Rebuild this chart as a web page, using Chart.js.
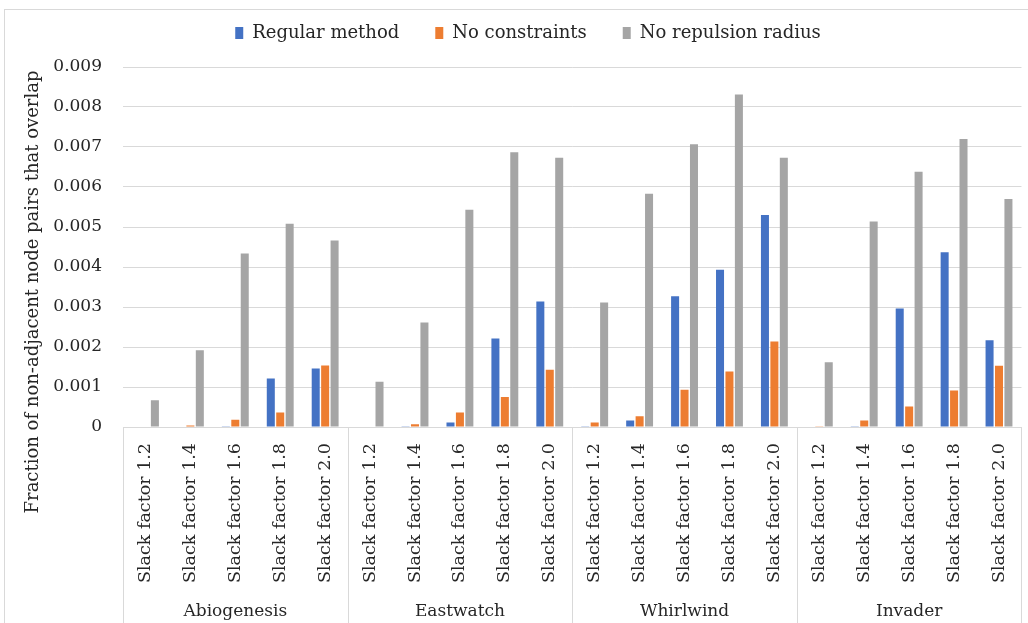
<!DOCTYPE html>
<html>
<head>
<meta charset="utf-8">
<script src="https://cdn.jsdelivr.net/npm/chart.js@4"></script>
<style>
  body { margin: 0; background: #fff; }
  #frame { position: absolute; left: 4px; top: 9px; width: 1100px; height: 700px; border: 1px solid #d9d9d9; }
  #wrap { position: absolute; left: 0; top: 0; width: 1028px; height: 623px; }
</style>
</head>
<body>
<div id="frame"></div>
<div id="wrap"><canvas id="chart"></canvas></div>
<script>
// data
var groups = ['Abiogenesis', 'Eastwatch', 'Whirlwind', 'Invader'];
var factors = ['Slack factor 1.2', 'Slack factor 1.4', 'Slack factor 1.6', 'Slack factor 1.8', 'Slack factor 2.0'];
var regular = [0, 0, 0.00002, 0.00121, 0.00146,
               0, 0.00002, 0.00011, 0.00221, 0.00314,
               0.00002, 0.00016, 0.00327, 0.00393, 0.0053,
               0, 0.00002, 0.00296, 0.00437, 0.00217];
var noConstraints = [0, 0.00004, 0.00018, 0.00036, 0.00154,
                     0, 0.00007, 0.00036, 0.00075, 0.00143,
                     0.00011, 0.00027, 0.00093, 0.00139, 0.00214,
                     0.00002, 0.00016, 0.00051, 0.00091, 0.00153];
var noRepulsion = [0.00067, 0.00192, 0.00434, 0.00508, 0.00466,
                   0.00113, 0.00261, 0.00543, 0.00687, 0.00673,
                   0.00311, 0.00583, 0.00707, 0.00831, 0.00673,
                   0.00162, 0.00514, 0.00638, 0.0072, 0.0057];
var yTitle = 'Fraction of non-adjacent node pairs that overlap';

var labels = [];
groups.forEach(function (g) {
    factors.forEach(function (f) { labels.push(f); });
});

var FONT = 'DejaVu Serif';
var TEXT = '#262626';
var GRID = '#d9d9d9';

// fixed legend height so the plot starts where the reference does,
// and legend nudged right a little like the original
var legendBox = {
    id: 'legendBox',
    beforeLayout: function (chart) {
        var lg = chart.legend;
        if (lg && !lg._fixed) {
            var fit = lg.fit;
            lg.fit = function () { fit.call(this); this.height = 79; };
            lg._fixed = true;
        }
    },
    afterLayout: function (chart) {
        chart.legend.left += 14;
        chart.legend.right += 14;
    }
};

// group separators and y title
var extras = {
    id: 'extras',
    afterDraw: function (chart) {
        var ctx = chart.ctx;
        var x = chart.scales.x;
        var top = chart.chartArea.bottom;
        var bottom = chart.height;
        ctx.save();
        ctx.strokeStyle = GRID;
        ctx.lineWidth = 1;
        for (var g = 0; g <= groups.length; g++) {
            var px;
            if (g === 0) px = x.left;
            else if (g === groups.length) px = x.right;
            else px = (x.getPixelForValue(g * 5 - 1) + x.getPixelForValue(g * 5)) / 2;
            px = Math.round(px) + 0.5;
            ctx.beginPath();
            ctx.moveTo(px, top);
            ctx.lineTo(px, bottom);
            ctx.stroke();
        }
        ctx.translate(33, 292);
        ctx.rotate(-Math.PI / 2);
        ctx.fillStyle = TEXT;
        ctx.font = '18px "' + FONT + '"';
        ctx.textAlign = 'center';
        ctx.textBaseline = 'middle';
        ctx.fillText(yTitle, 0, 0);
        ctx.restore();
    }
};

var ctx = document.getElementById('chart').getContext('2d');
var chart = new Chart(ctx, {
    type: 'bar',
    data: {
        labels: labels,
        datasets: [
            { label: 'Regular method', data: regular, backgroundColor: '#4472C4' },
            { label: 'No constraints', data: noConstraints, backgroundColor: '#ED7D31' },
            { label: 'No repulsion radius', data: noRepulsion, backgroundColor: '#A5A5A5' }
        ]
    },
    options: {
        responsive: true,
        maintainAspectRatio: false,
        animation: false,
        layout: { padding: { top: -12, right: 0, left: 0, bottom: 0 } },
        datasets: {
            bar: { categoryPercentage: 0.63, barPercentage: 0.85 }
        },
        scales: {
            x: {
                grid: { display: false },
                border: { color: GRID },
                ticks: {
                    color: TEXT,
                    font: { family: FONT, size: 17.5 },
                    minRotation: 90,
                    maxRotation: 90,
                    autoSkip: false,
                    padding: 8
                },
                afterFit: function (s) { s.height = 166; }
            },
            xGroup: {
                type: 'category',
                labels: groups,
                position: 'bottom',
                grid: { display: false },
                border: { display: false },
                ticks: {
                    color: TEXT,
                    font: { family: FONT, size: 17 },
                    padding: 0
                },
                afterFit: function (s) { s.height = 30; }
            },
            y: {
                min: 0,
                max: 0.009,
                grid: { color: GRID, drawTicks: false },
                border: { display: false },
                ticks: {
                    stepSize: 0.001,
                    color: TEXT,
                    font: { family: FONT, size: 17 },
                    padding: 21,
                    callback: function (v) { return v === 0 ? '0' : v.toFixed(3); }
                },
                afterFit: function (s) { s.width = 123; }
            }
        },
        plugins: {
            legend: {
                position: 'top',
                labels: {
                    color: TEXT,
                    font: { family: FONT, size: 18 },
                    boxWidth: 8,
                    boxHeight: 12,
                    padding: 36
                }
            },
            tooltip: { enabled: false }
        }
    },
    plugins: [legendBox, extras]
});
</script>
</body>
</html>
